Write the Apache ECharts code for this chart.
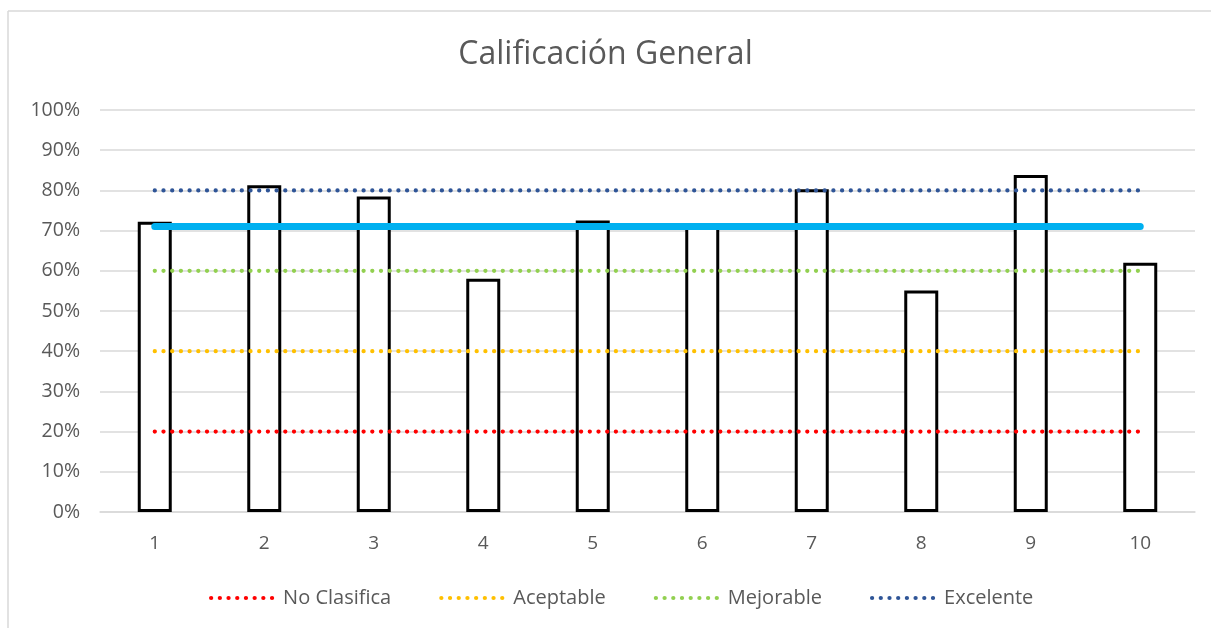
<!DOCTYPE html>
<html style="height: 100%">
  <head>
    <meta charset="utf-8" />
  </head>
  <body style="height: 100%; margin: 0; background: #fff">
    <div id="container" style="position: absolute; left: 0; top: 0; width: 1211px; height: 628px"></div>
    <script type="text/javascript" src="https://cdn.jsdelivr.net/npm/echarts@6/dist/echarts.min.js"></script>
    <script type="text/javascript">
      var dom = document.getElementById('container');
      var myChart = echarts.init(dom);

      // datos
      var categorias = ['1', '2', '3', '4', '5', '6', '7', '8', '9', '10'];
      var calificacion = [0.722, 0.813, 0.785, 0.58, 0.725, 0.71, 0.803, 0.551, 0.838, 0.62];
      var promedio = [0.71, 0.71, 0.71, 0.71, 0.71, 0.71, 0.71, 0.71, 0.71, 0.71];
      var noClasifica = [0.2, 0.2, 0.2, 0.2, 0.2, 0.2, 0.2, 0.2, 0.2, 0.2];
      var aceptable = [0.4, 0.4, 0.4, 0.4, 0.4, 0.4, 0.4, 0.4, 0.4, 0.4];
      var mejorable = [0.6, 0.6, 0.6, 0.6, 0.6, 0.6, 0.6, 0.6, 0.6, 0.6];
      var excelente = [0.8, 0.8, 0.8, 0.8, 0.8, 0.8, 0.8, 0.8, 0.8, 0.8];

      var fuente = "'Open Sans', sans-serif";
      var gris = '#595959';

      function umbral(nombre, datos, color) {
        return {
          name: nombre,
          type: 'line',
          data: datos,
          symbol: 'none',
          z: 3,
          itemStyle: { color: color },
          lineStyle: { color: color, width: 4.2, type: [0.1, 8.6], cap: 'round' },
          emphasis: { disabled: true }
        };
      }

      var option = {
        animation: false,
        textStyle: { fontFamily: fuente },
        title: {
          text: 'Calificación General',
          left: 'center',
          top: 34,
          textStyle: { fontFamily: fuente, fontSize: 32, fontWeight: 'normal', color: gris }
        },
        graphic: [
          { type: 'line', shape: { x1: 8, y1: 11, x2: 1211, y2: 11 }, style: { stroke: '#d9d9d9', lineWidth: 1.5 } },
          { type: 'line', shape: { x1: 8, y1: 11, x2: 8, y2: 628 }, style: { stroke: '#d9d9d9', lineWidth: 1.5 } }
        ],
        legend: {
          bottom: 15,
          left: 204,
          itemWidth: 62,
          itemHeight: 8,
          itemGap: 48,
          itemStyle: { opacity: 0 },
          lineStyle: { width: 4.2, type: [0.1, 8.6], cap: 'round' },
          textStyle: { fontFamily: fuente, fontSize: 20, color: gris, padding: [0, 0, 0, 5] },
          data: ['No Clasifica', 'Aceptable', 'Mejorable', 'Excelente']
        },
        grid: { left: 100, right: 16, top: 110, bottom: 116 },
        xAxis: {
          type: 'category',
          data: categorias,
          axisLine: { lineStyle: { color: '#d9d9d9', width: 1.5 } },
          axisTick: { show: false },
          axisLabel: { fontFamily: fuente, fontSize: 19, color: gris, margin: 22 }
        },
        yAxis: {
          type: 'value',
          min: 0,
          max: 1,
          interval: 0.1,
          axisLine: { show: false },
          axisTick: { show: false },
          splitLine: { lineStyle: { color: '#d9d9d9', width: 1.5 } },
          axisLabel: {
            fontFamily: fuente,
            fontSize: 19.5,
            color: gris,
            margin: 20,
            formatter: function (v) { return Math.round(v * 100) + '%'; }
          }
        },
        series: [
          {
            name: 'Calificación',
            type: 'bar',
            data: calificacion,
            barWidth: 34,
            z: 2,
            itemStyle: { color: '#ffffff', borderColor: '#000000', borderWidth: 3 },
            emphasis: { disabled: true }
          },
          umbral('No Clasifica', noClasifica, '#ff0000'),
          umbral('Aceptable', aceptable, '#ffc000'),
          umbral('Mejorable', mejorable, '#92d050'),
          umbral('Excelente', excelente, '#2f5597'),
          {
            name: 'Promedio',
            type: 'line',
            data: promedio,
            symbol: 'none',
            z: 4,
            lineStyle: { color: '#00b0f0', width: 7, cap: 'round' },
            emphasis: { disabled: true }
          }
        ]
      };

      myChart.setOption(option);
    </script>
  </body>
</html>
